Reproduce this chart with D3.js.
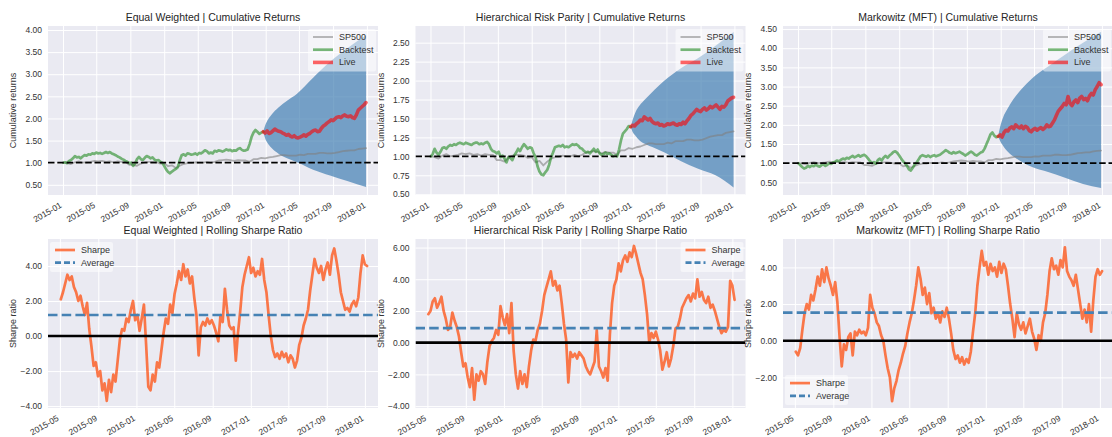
<!DOCTYPE html>
<html><head><meta charset="utf-8">
<script src="https://cdn.jsdelivr.net/npm/d3@7"></script>
<style>
body{margin:0;background:#fff;}
text{font-family:"Liberation Sans",Arial,Helvetica,sans-serif;}
</style>
</head><body>
<svg id="chart" width="1112" height="437"></svg>
<script>
// ---------------- DATA ----------------
const panelNames = ["Equal Weighted", "Hierarchical Risk Parity", "Markowitz (MFT)"];
const topTitleSuffix = " | Cumulative Returns";
const botTitleSuffix = " | Rolling Sharpe Ratio";
const topLegendLabels = ["SP500", "Backtest", "Live"];
const botLegendLabels = ["Sharpe", "Average"];
const topYLabel = "Cumulative returns";
const botYLabel = "Sharpe ratio";

const topTickLabels = ["2015-01","2015-05","2015-09","2016-01","2016-05","2016-09","2017-01","2017-05","2017-09","2018-01"];
const botTickLabels = ["2015-05","2015-09","2016-01","2016-05","2016-09","2017-01","2017-05","2017-09","2018-01"];
const topXLimits = ["2014-11-08","2018-02-10"];
const botXLimits = ["2015-03-24","2018-02-12"];

const ewTopYLimits = [0.27, 4.09];
const hrpTopYLimits = [0.49, 2.72];
const mftTopYLimits = [0.17, 4.58];
const ewTopYTicks = [0.5,1.0,1.5,2.0,2.5,3.0,3.5,4.0];
const hrpTopYTicks = [0.5,0.75,1.0,1.25,1.5,1.75,2.0,2.25,2.5];
const mftTopYTicks = [0.5,1.0,1.5,2.0,2.5,3.0,3.5,4.0,4.5];

const ewBotYLimits = [-4.11, 5.54];
const hrpBotYLimits = [-4.12, 6.54];
const mftBotYLimits = [-3.67, 5.55];
const ewBotYTicks = [-4,-2,0,2,4];
const hrpBotYTicks = [-4,-2,0,2,4,6];
const mftBotYTicks = [-2,0,2,4];

// weekly series start dates
const backtestStart = "2015-01-02";
const liveStart = "2016-12-23";
const sp500Start = "2015-01-02";
const sharpeStart = "2015-05-04";
const weekDays = 7, sp500StepDays = 14;

const sp500 = [1.00,0.99,0.97,1.01,1.03,1.00,1.01,1.02,1.04,1.03,
1.04,1.02,1.03,1.01,1.03,1.02,1.02,0.95,0.95,0.93,
0.98,1.01,1.02,1.02,1.01,0.98,0.99,0.92,0.94,0.88,
0.93,0.97,0.99,0.99,1.01,1.00,1.00,1.02,1.00,1.02,
1.05,1.06,1.07,1.06,1.04,1.06,1.05,1.05,1.02,1.08,
1.08,1.11,1.10,1.12,1.13,1.15,1.17,1.17,1.16,1.16,
1.16,1.18,1.17,1.20,1.20,1.20,1.22,1.22,1.21,1.21,
1.22,1.24,1.26,1.27,1.28,1.28,1.31,1.32,1.33];

const ewBacktest = [1.00,1.01,0.99,1.04,1.06,1.10, 1.15,1.12,1.13,1.10,1.14,1.17,
1.16,1.19,1.18,1.21,1.20,1.23, 1.21,1.22,1.20,1.22,1.24,1.22,
1.24,1.21,1.19,1.17,1.14,1.12, 1.09,1.07,1.04,1.02,0.99,1.00,
0.93,0.98,1.08,1.13,1.08,1.06, 1.11,1.15,1.13,1.10,1.12,1.07,
1.05,1.06,1.02,1.00,0.93,0.85, 0.79,0.76,0.80,0.83,0.86,0.90,
1.05,1.17,1.19,1.16,1.21,1.20, 1.18,1.19,1.21,1.18,1.22,1.21,
1.24,1.28,1.26,1.21,1.23,1.21, 1.27,1.25,1.28,1.27,1.25,1.27,
1.30,1.28,1.29,1.26,1.28,1.27, 1.31,1.33,1.29,1.27,1.28,1.30,
1.42,1.58,1.68,1.74,1.70,1.65, 1.68,1.70];
const ewLive = [1.70,1.67,1.72,1.66,1.68,1.72, 1.76,1.73,1.71,1.70,1.67,1.65,
1.62,1.64,1.60,1.58,1.61,1.57, 1.56,1.58,1.60,1.63,1.60,1.64,
1.66,1.70,1.73,1.74,1.70,1.71, 1.78,1.83,1.86,1.90,1.93,1.97,
1.95,1.99,2.03,2.04,2.02,2.06, 2.08,2.05,2.04,2.06,2.02,2.00,
2.08,2.19,2.23,2.27,2.31,2.36];

const hrpBacktest = [1.00,1.03,1.10,1.05,1.02,1.06, 1.11,1.12,1.10,1.13,1.15,1.14,
1.16,1.15,1.17,1.18,1.17,1.16, 1.18,1.17,1.16,1.15,1.17,1.18,
1.18,1.16,1.17,1.16,1.18,1.19, 1.16,1.10,1.07,1.06,1.04,1.06,
0.99,1.01,0.97,0.92,0.99,0.98, 0.95,1.01,1.05,1.10,1.07,1.12,
1.16,1.13,1.10,1.12,1.11,1.04, 0.99,0.87,0.80,0.76,0.75,0.79,
0.82,0.89,0.99,1.05,1.12,1.13, 1.14,1.13,1.15,1.12,1.13,1.12,
1.14,1.16,1.15,1.16,1.14,1.11, 1.10,1.07,1.05,1.06,1.04,1.07,
1.10,1.06,1.09,1.04,1.02,1.03, 1.05,1.03,1.04,1.02,1.00,1.01,
1.00,1.09,1.21,1.30,1.33,1.36, 1.40,1.39];
const hrpLive = [1.39,1.41,1.40,1.43,1.45,1.48, 1.47,1.52,1.50,1.48,1.50,1.46,
1.44,1.43,1.44,1.41,1.42,1.40, 1.41,1.43,1.42,1.43,1.44,1.42,
1.41,1.43,1.42,1.45,1.43,1.47, 1.50,1.54,1.56,1.59,1.62,1.60,
1.59,1.62,1.64,1.61,1.63,1.66, 1.64,1.66,1.68,1.65,1.62,1.66,
1.65,1.68,1.73,1.75,1.77,1.78];

const mftBacktest = [1.00,0.95,0.90,0.86,0.88,0.93, 0.90,0.94,0.92,0.96,0.93,0.91,
0.95,0.97,0.93,0.96,1.00,0.98, 1.02,1.04,1.07,1.05,1.09,1.12,
1.10,1.14,1.12,1.16,1.19,1.15, 1.18,1.21,1.17,1.20,1.22,1.18,
1.12,1.05,1.00,1.03,0.99,1.08, 1.12,1.07,1.15,1.19,1.14,1.20,
1.24,1.29,1.31,1.27,1.20,1.12, 1.05,1.00,0.93,0.84,0.81,0.88,
0.97,1.02,1.10,1.18,1.21,1.19, 1.17,1.20,1.16,1.19,1.21,1.18,
1.20,1.22,1.26,1.30,1.34,1.31, 1.27,1.25,1.29,1.26,1.28,1.30,
1.27,1.24,1.20,1.23,1.27,1.30, 1.27,1.22,1.20,1.24,1.28,1.30,
1.38,1.50,1.62,1.75,1.80,1.72, 1.68,1.70];
const mftLive = [1.70,1.74,1.68,1.80,1.86,1.84, 1.92,1.95,1.90,2.00,1.95,1.92,
1.97,1.90,1.96,1.93,1.85,1.82, 1.88,1.91,1.86,1.90,1.93,1.88,
1.92,2.00,1.95,1.97,2.05,2.13, 2.25,2.36,2.42,2.48,2.56,2.52,
2.74,2.56,2.50,2.60,2.65,2.58, 2.70,2.74,2.66,2.69,2.63,2.75,
2.82,2.78,2.92,3.00,3.10,3.05];

const coneDates = ["2016-12-23","2016-12-30","2017-01-10","2017-01-24","2017-02-15","2017-03-19","2017-04-24","2017-06-21","2017-08-21","2017-10-25","2017-12-29"];
const ewConeLower  = [1.70,1.55,1.42,1.32,1.21,1.10,1.01,0.84,0.71,0.58,0.45];
const ewConeUpper  = [1.70,1.84,1.98,2.10,2.24,2.40,2.56,2.92,3.28,3.60,3.88];
const hrpConeLower = [1.39,1.32,1.27,1.21,1.16,1.11,1.05,0.94,0.84,0.75,0.59];
const hrpConeUpper = [1.39,1.48,1.59,1.67,1.76,1.88,2.00,2.16,2.29,2.46,2.64];
const mftConeLower = [1.70,1.58,1.45,1.32,1.18,1.03,0.90,0.77,0.62,0.46,0.35];
const mftConeUpper = [1.70,1.95,2.20,2.40,2.66,2.95,3.21,3.52,3.83,4.14,4.43];

const ewSharpe = [2.1,2.5,3.0,3.5,3.2,3.4,2.8,2.5,2.0,2.3,
1.7,1.2,1.9,0.4,-0.6,-1.7,-1.5,-2.3,-2.0,-3.1,
-2.7,-3.7,-2.5,-3.2,-2.2,-2.6,-1.4,-0.2,0.4,0.3,
1.0,0.8,1.5,2.0,0.9,1.2,0.3,1.0,1.8,-0.5,
-2.9,-3.1,-2.2,-2.6,-1.5,-1.8,-0.8,0.2,1.0,0.7,
1.8,1.3,2.4,3.0,3.7,3.2,4.1,3.4,3.8,3.0,
3.4,2.2,1.2,-1.1,0.5,0.8,0.6,1.0,0.7,0.9,
0.6,0.2,-0.3,1.2,0.8,2.7,1.5,0.6,0.4,0.5,
-1.4,0.2,1.4,2.8,3.5,4.0,4.5,3.6,3.9,3.4,
3.7,3.5,4.4,3.2,2.5,1.2,0.0,-0.8,-1.2,-1.0,
-1.3,-0.9,-1.2,-1.0,-1.5,-1.1,-1.3,-1.8,-1.4,-0.5,
-0.1,0.6,1.0,1.5,2.6,3.5,4.4,3.9,3.6,4.0,
3.2,3.8,4.2,3.5,4.6,5.0,4.3,3.5,2.5,2.0,
1.5,1.6,1.4,1.8,2.0,1.7,2.2,3.6,4.6,4.1,
4.0];
const hrpSharpe = [1.8,2.0,2.6,2.8,2.2,2.5,2.9,2.0,1.5,0.8,
1.0,1.9,1.4,1.0,0.4,-0.6,-1.5,-1.3,-2.2,-2.8,
-1.6,-3.6,-2.0,-2.4,-1.8,-2.0,-2.6,-1.2,-0.2,0.1,
0.3,0.8,0.5,2.3,1.6,1.1,1.8,0.6,2.5,-0.5,
-2.0,-2.9,-1.8,-2.6,-2.0,-2.8,-1.5,-0.5,0.2,0.1,
0.8,1.2,2.0,3.0,3.5,4.0,4.5,3.6,3.9,3.3,
3.6,2.5,1.2,0.2,-2.5,-0.6,-0.9,-0.7,-1.0,-0.6,
-0.8,-1.0,-1.5,-1.8,-2.0,-1.6,-1.2,0.8,-1.5,-1.8,
-2.2,-1.6,-2.4,0.5,2.5,3.6,4.0,5.0,4.5,5.2,
5.5,5.1,5.7,5.4,6.1,5.6,5.0,4.4,4.0,3.0,
1.8,0.0,0.6,0.3,0.7,0.2,-0.5,-1.7,-1.2,-0.6,
-1.5,-1.0,-0.2,0.9,1.0,1.5,2.2,2.5,2.8,3.0,
2.6,3.1,2.8,4.0,2.9,3.2,2.7,2.5,2.9,2.2,
2.4,2.0,1.5,1.0,0.6,0.8,0.7,1.0,3.9,3.6,
2.7];
const mftSharpe = [-0.6,-0.8,-0.4,0.6,1.5,2.0,1.7,2.5,2.2,2.8,
3.5,3.0,3.9,3.2,4.0,3.4,3.0,2.5,3.2,2.1,
0.2,-1.4,-0.2,-0.5,0.2,0.4,-0.8,0.5,0.3,0.6,
0.4,0.5,0.3,0.7,2.5,1.8,1.5,1.0,0.8,0.3,
0.0,-0.8,-1.5,-2.0,-3.3,-2.6,-2.2,-1.6,-1.2,-0.7,
-0.3,0.4,1.0,1.5,2.2,3.0,4.0,3.4,2.5,2.9,
2.0,2.6,1.5,1.8,1.2,1.5,1.0,1.6,1.3,1.8,
1.2,0.4,-0.5,-1.0,-0.8,-1.2,-0.9,-1.3,-1.0,-1.2,
-0.6,0.5,1.5,3.0,4.0,4.9,4.1,4.3,3.6,4.2,
3.8,4.0,3.5,4.3,3.7,4.2,3.9,3.0,2.0,1.2,
0.2,1.5,0.9,0.6,1.0,0.4,0.8,1.2,0.5,0.1,
-0.5,0.3,0.0,1.0,1.5,2.5,3.8,4.5,3.9,4.1,
3.6,4.4,4.0,5.1,3.8,3.5,3.3,3.0,3.6,2.8,
2.0,1.2,1.7,1.0,2.0,0.5,2.2,3.5,3.9,3.6,
3.8];
const ewSharpeAvg = 1.20, hrpSharpeAvg = 0.92, mftSharpeAvg = 1.53;

// ---------------- LAYOUT / STYLE ----------------
const svg = d3.select("#chart");
const defs = svg.append("defs");
const PW = 330;
const colX = [48, 415.5, 783];
const topBox = [26, 195];
const botBox = [239, 408];
const BG = "#EAEAF2";
const TXT = "#333";
const parseDay = d3.timeParse("%Y-%m-%d");
const parseMonth = d3.timeParse("%Y-%m");
const monthFmt = d3.timeFormat("%Y-%m");

function series(start, step, vals) {
  const s = parseDay(start);
  return vals.map((v, i) => ({d: d3.timeDay.offset(s, i * step), v}));
}

function frame(left, box, x, y, xTickLabels, yTicks, title, ylabel, id) {
  const h = box[1] - box[0];
  svg.append("rect").attr("x", left).attr("y", box[0]).attr("width", PW).attr("height", h).attr("fill", BG);
  const ya = svg.append("g").attr("transform", `translate(${left},0)`)
    .call(d3.axisLeft(y).tickValues(yTicks).tickFormat(d3.format(".2f")).tickSize(-PW).tickPadding(6));
  ya.select(".domain").remove();
  ya.selectAll(".tick line").attr("stroke", "#fff").attr("stroke-width", 1);
  ya.selectAll(".tick text").attr("fill", TXT).style("font-size", "8.5px").attr("font-family", null);
  const xa = svg.append("g").attr("transform", `translate(0,${box[1]})`)
    .call(d3.axisBottom(x).tickValues(xTickLabels.map(parseMonth)).tickFormat(monthFmt).tickSize(-h));
  xa.select(".domain").remove();
  xa.selectAll(".tick line").attr("stroke", "#fff").attr("stroke-width", 1);
  xa.selectAll(".tick text").attr("fill", TXT).style("font-size", "8.5px")
    .attr("x", 0).attr("y", 0).attr("dy", 0)
    .attr("text-anchor", "end").attr("transform", "translate(-1,12) rotate(-30)");
  svg.append("text").attr("x", left + PW / 2).attr("y", box[0] - 5).attr("text-anchor", "middle")
    .attr("fill", "#262626").style("font-size", "10.5px").text(title);
  svg.append("text").attr("transform", `translate(${left - 32},${(box[0] + box[1]) / 2}) rotate(-90)`)
    .attr("text-anchor", "middle").attr("fill", TXT).style("font-size", "9px").text(ylabel);
  defs.append("clipPath").attr("id", id).append("rect")
    .attr("x", left).attr("y", box[0]).attr("width", PW).attr("height", h);
  return svg.append("g").attr("clip-path", `url(#${id})`);
}

function legend(bx, by, w, items) {
  const g = svg.append("g");
  g.append("rect").attr("x", bx).attr("y", by).attr("width", w).attr("height", items.length * 12.7 + 4.5)
    .attr("rx", 2).attr("fill", "#fff").attr("fill-opacity", 0.5);
  items.forEach((it, k) => {
    const yy = by + 8 + k * 12.7;
    g.append("line").attr("x1", bx + 5).attr("x2", bx + 25).attr("y1", yy).attr("y2", yy)
      .attr("stroke", it.color).attr("stroke-opacity", it.op).attr("stroke-width", it.w)
      .attr("stroke-dasharray", it.dash || null);
    g.append("text").attr("x", bx + 31).attr("y", yy).attr("dy", "0.34em").attr("fill", TXT)
      .style("font-size", "9px").text(it.label);
  });
}

function topPanel(i, back, live, lo, hi, yLim, yTicks) {
  const left = colX[i];
  const x = d3.scaleTime().domain(topXLimits.map(parseDay)).range([left, left + PW]);
  const y = d3.scaleLinear().domain(yLim).range([topBox[1], topBox[0]]);
  const pg = frame(left, topBox, x, y, topTickLabels, yTicks, panelNames[i] + topTitleSuffix, topYLabel, "ct" + i);
  const cone = coneDates.map((d, k) => ({d: parseDay(d), lo: lo[k], hi: hi[k]}));
  pg.append("path").datum(cone)
    .attr("d", d3.area().x(d => x(d.d)).y0(d => y(d.lo)).y1(d => y(d.hi)).curve(d3.curveMonotoneX))
    .attr("fill", "steelblue").attr("fill-opacity", 0.72);
  const line = d3.line().x(d => x(d.d)).y(d => y(d.v));
  const add = (data, color, op, w) => pg.append("path").datum(data).attr("d", line).attr("fill", "none")
    .attr("stroke", color).attr("stroke-opacity", op).attr("stroke-width", w)
    .attr("stroke-linejoin", "round").attr("stroke-linecap", "round");
  add(series(sp500Start, sp500StepDays, sp500), "gray", 0.6, 1.8);
  add(series(backtestStart, weekDays, back), "forestgreen", 0.6, 2.7);
  add(series(liveStart, weekDays, live), "red", 0.6, 3.6);
  pg.append("line").attr("x1", left).attr("x2", left + PW).attr("y1", y(1)).attr("y2", y(1))
    .attr("stroke", "black").attr("stroke-width", 1.8).attr("stroke-dasharray", "6.5,2.8");
  legend(left + PW - 70, topBox[0] + 3, 68, [
    {label: topLegendLabels[0], color: "gray", op: 0.6, w: 1.8},
    {label: topLegendLabels[1], color: "forestgreen", op: 0.6, w: 2.7},
    {label: topLegendLabels[2], color: "red", op: 0.6, w: 3.6}
  ]);
}

function botPanel(i, vals, avg, yLim, yTicks, pos) {
  const left = colX[i];
  const x = d3.scaleTime().domain(botXLimits.map(parseDay)).range([left, left + PW]);
  const y = d3.scaleLinear().domain(yLim).range([botBox[1], botBox[0]]);
  const pg = frame(left, botBox, x, y, botTickLabels, yTicks, panelNames[i] + botTitleSuffix, botYLabel, "cb" + i);
  const line = d3.line().x(d => x(d.d)).y(d => y(d.v));
  pg.append("path").datum(series(sharpeStart, weekDays, vals)).attr("d", line).attr("fill", "none")
    .attr("stroke", "orangered").attr("stroke-opacity", 0.7).attr("stroke-width", 2.7)
    .attr("stroke-linejoin", "round").attr("stroke-linecap", "round");
  pg.append("line").attr("x1", left).attr("x2", left + PW).attr("y1", y(avg)).attr("y2", y(avg))
    .attr("stroke", "steelblue").attr("stroke-width", 2.7).attr("stroke-dasharray", "9.5,4.2");
  pg.append("line").attr("x1", left).attr("x2", left + PW).attr("y1", y(0)).attr("y2", y(0))
    .attr("stroke", "black").attr("stroke-width", 2.7);
  const w = 63, hh = 2 * 12.7 + 4.5;
  let bx, by;
  if (pos === "tl") { bx = left + 2; by = botBox[0] + 3; }
  else if (pos === "tr") { bx = left + PW - 2 - w; by = botBox[0] + 3; }
  else { bx = left + 2; by = botBox[1] - 3 - hh; }
  legend(bx, by, w, [
    {label: botLegendLabels[0], color: "orangered", op: 0.7, w: 2.7},
    {label: botLegendLabels[1], color: "steelblue", op: 1, w: 2.7, dash: "6,3"}
  ]);
}

topPanel(0, ewBacktest, ewLive, ewConeLower, ewConeUpper, ewTopYLimits, ewTopYTicks);
topPanel(1, hrpBacktest, hrpLive, hrpConeLower, hrpConeUpper, hrpTopYLimits, hrpTopYTicks);
topPanel(2, mftBacktest, mftLive, mftConeLower, mftConeUpper, mftTopYLimits, mftTopYTicks);
botPanel(0, ewSharpe, ewSharpeAvg, ewBotYLimits, ewBotYTicks, "tl");
botPanel(1, hrpSharpe, hrpSharpeAvg, hrpBotYLimits, hrpBotYTicks, "tr");
botPanel(2, mftSharpe, mftSharpeAvg, mftBotYLimits, mftBotYTicks, "bl");
</script>
</body></html>
